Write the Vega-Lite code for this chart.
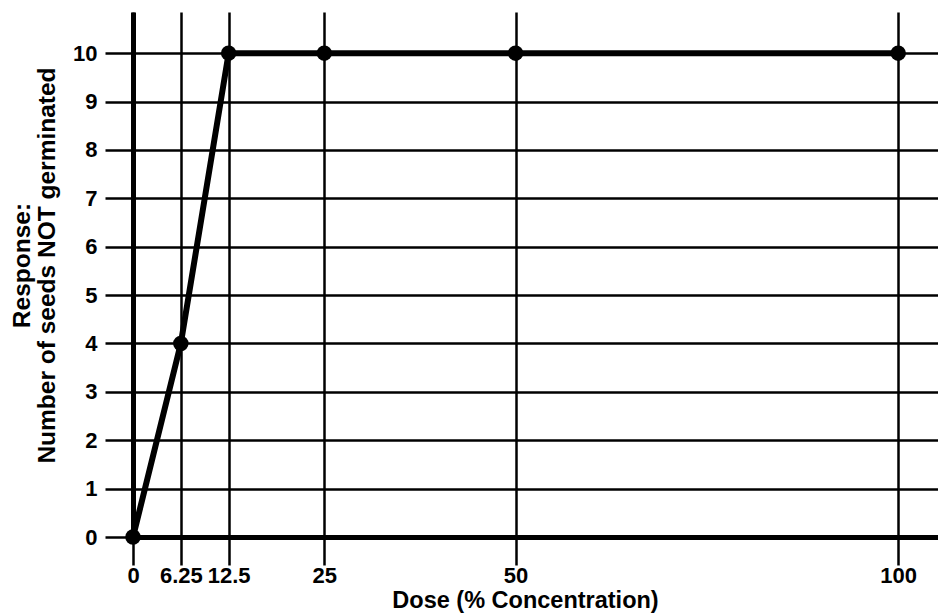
{
  "$schema": "https://vega.github.io/schema/vega-lite/v6.json",
  "width": 805,
  "height": 525,
  "autosize": "none",
  "padding": {"left": 133, "top": 12, "right": 0, "bottom": 79},
  "background": "white",
  "config": {
    "view": {"stroke": null}
  },
  "data": {
    "values": [
      {"dose": 0, "response": 0},
      {"dose": 6.25, "response": 4},
      {"dose": 12.5, "response": 10},
      {"dose": 25, "response": 10},
      {"dose": 50, "response": 10},
      {"dose": 100, "response": 10}
    ]
  },
  "encoding": {
    "x": {
      "field": "dose",
      "type": "quantitative",
      "scale": {"domain": [0, 105.2], "nice": false, "zero": false},
      "axis": {
        "values": [0, 6.25, 12.5, 25, 50, 100],
        "labelExpr": "'' + datum.value",
        "grid": true,
        "gridColor": "black",
        "gridWidth": 2.5,
        "gridOpacity": 1,
        "tickColor": "black",
        "tickWidth": 2.5,
        "tickSize": 28,
        "domainColor": "black",
        "domainWidth": 5,
        "labelFont": "Liberation Sans",
        "labelFontWeight": "bold",
        "labelFontSize": 22,
        "labelColor": "black",
        "titleFont": "Liberation Sans",
        "titleFontWeight": "bold",
        "titleFontSize": 23.5,
        "titleColor": "black",
        "title": "Dose (% Concentration)",
        "labelPadding": 0,
        "titlePadding": 2,
        "titleX": 392,
        "labelFlush": false,
        "labelOverlap": false
      }
    },
    "y": {
      "field": "response",
      "type": "quantitative",
      "scale": {"domain": [0, 10.85], "nice": false},
      "axis": {
        "values": [0, 1, 2, 3, 4, 5, 6, 7, 8, 9, 10],
        "grid": true,
        "gridColor": "black",
        "gridWidth": 2.5,
        "gridOpacity": 1,
        "tickColor": "black",
        "tickWidth": 2.5,
        "tickSize": 28,
        "domainColor": "black",
        "domainWidth": 5,
        "labelFont": "Liberation Sans",
        "labelFontWeight": "bold",
        "labelFontSize": 22,
        "labelColor": "black",
        "titleFont": "Liberation Sans",
        "titleFontWeight": "bold",
        "titleFontSize": 24.5,
        "titleColor": "black",
        "title": ["Response:", "Number of seeds NOT germinated"],
        "labelPadding": 8,
        "titlePadding": 13,
        "titleY": 253,
        "titleLineHeight": 25,
        "labelFlush": false
      }
    }
  },
  "layer": [
    {"mark": {"type": "line", "color": "black", "strokeWidth": 6, "clip": false}},
    {"mark": {"type": "point", "filled": true, "color": "black", "size": 240, "opacity": 1, "clip": false}}
  ]
}
